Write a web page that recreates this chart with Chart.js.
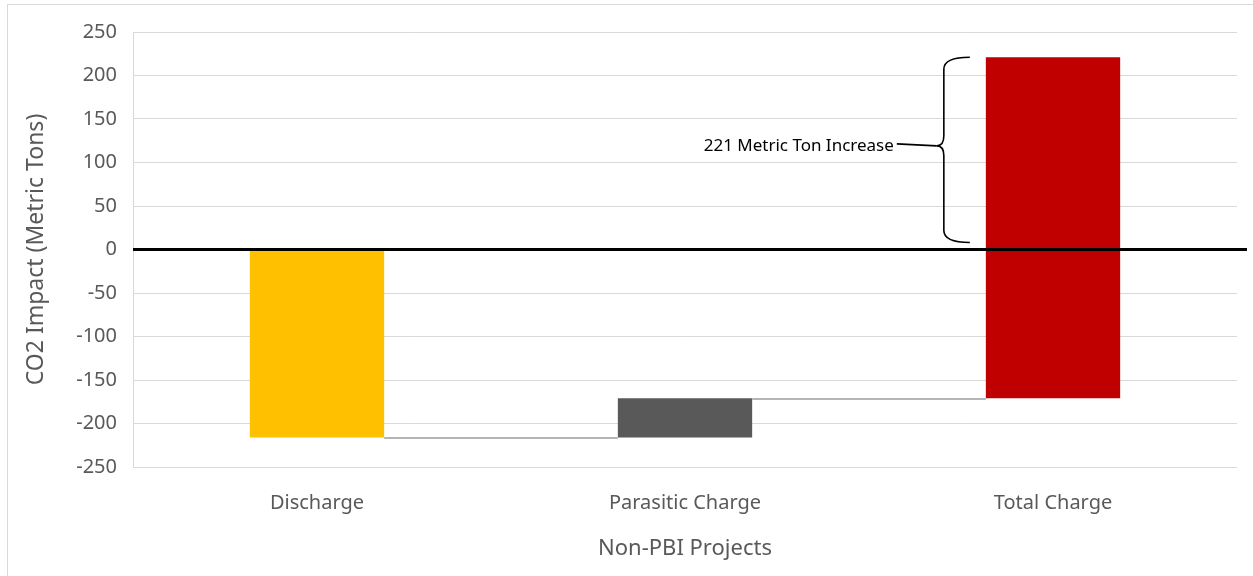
<!DOCTYPE html>
<html>
<head>
<meta charset="utf-8">
<script src="https://cdn.jsdelivr.net/npm/chart.js@4/dist/chart.umd.min.js"></script>
<style>
  html, body { margin: 0; padding: 0; background: #fff; overflow: hidden; }
  #wrap { position: absolute; left: 0; top: 0; width: 1253px; height: 576px; }
</style>
</head>
<body>
<div id="wrap"><canvas id="chart" width="1253" height="576"></canvas></div>
<script>
// categories and floating bar ranges (start -> end, metric tons)
const categories = ["Discharge", "Parasitic Charge", "Total Charge"];
const barStart = [0, -216, -171];
const barEnd = [-216, -171, 221];

// y axis ticks
const yMin = -250;
const yMax = 250;
const yStep = 50;

// bracket annotation on the last bar
const braceFrom = 0;
const braceTo = 221;
const braceLabel = "221 Metric Ton Increase";

const barColors = ["#FFC000", "#595959", "#C00000"];
const FONT = "'Noto Sans', 'Open Sans', sans-serif";

const ranges = barStart.map((s, i) => [s, barEnd[i]]);

// outer frame, waterfall connectors, zero line and the bracket
const extras = {
  id: "extras",
  beforeDraw(chart) {
    const ctx = chart.ctx;
    ctx.save();
    ctx.strokeStyle = "#d9d9d9";
    ctx.lineWidth = 1;
    ctx.strokeRect(7.5, 4.5, 1250, 580);
    ctx.restore();
  },
  afterDatasetsDraw(chart) {
    const ctx = chart.ctx;
    const y = chart.scales.y;
    const bars = chart.getDatasetMeta(0).data;
    const area = chart.chartArea;

    // connectors between consecutive bars
    ctx.save();
    ctx.strokeStyle = "#b4b4b4";
    ctx.lineWidth = 2;
    for (let i = 0; i < bars.length - 1; i++) {
      const a = bars[i], b = bars[i + 1];
      const yy = Math.round(y.getPixelForValue(barEnd[i])) + 1;
      ctx.beginPath();
      ctx.moveTo(a.x + a.width / 2, yy);
      ctx.lineTo(b.x - b.width / 2, yy);
      ctx.stroke();
    }
    ctx.restore();

    // zero line
    const y0 = y.getPixelForValue(0);
    ctx.save();
    ctx.strokeStyle = "#000";
    ctx.lineWidth = 3;
    ctx.beginPath();
    ctx.moveTo(area.left, y0);
    ctx.lineTo(area.right + 10, y0);
    ctx.stroke();
    ctx.restore();

    // bracket to the left of the last bar
    const last = bars[bars.length - 1];
    const left = last.x - last.width / 2;
    const top = y.getPixelForValue(braceTo);
    const bottom = y.getPixelForValue(braceFrom) - 7;
    const mid = (top + bottom) / 2 - 4;
    const endX = left - 16;
    const spineX = left - 42;
    const tipX = left - 49;
    ctx.save();
    ctx.strokeStyle = "#000";
    ctx.lineWidth = 1.6;
    ctx.beginPath();
    ctx.moveTo(endX, top);
    ctx.quadraticCurveTo(spineX, top, spineX, top + 12);
    ctx.lineTo(spineX, mid - 10);
    ctx.quadraticCurveTo(spineX, mid, tipX, mid);
    ctx.quadraticCurveTo(spineX, mid, spineX, mid + 10);
    ctx.lineTo(spineX, bottom - 12);
    ctx.quadraticCurveTo(spineX, bottom, endX, bottom);
    ctx.stroke();
    ctx.beginPath();
    ctx.moveTo(tipX, mid);
    ctx.lineTo(tipX - 40, mid - 2);
    ctx.stroke();
    ctx.fillStyle = "#000";
    ctx.font = "17px " + FONT;
    ctx.textAlign = "right";
    ctx.textBaseline = "middle";
    ctx.fillText(braceLabel, tipX - 43, mid);
    ctx.restore();
  }
};

new Chart(document.getElementById("chart"), {
  type: "bar",
  data: {
    labels: categories,
    datasets: [{
      data: ranges,
      backgroundColor: barColors,
      borderWidth: 0,
      barPercentage: 1,
      categoryPercentage: 0.365
    }]
  },
  options: {
    responsive: false,
    animation: false,
    plugins: {
      legend: { display: false },
      tooltip: { enabled: false }
    },
    layout: { padding: { left: 20, top: 32, right: 16, bottom: 10 } },
    scales: {
      x: {
        grid: { display: false },
        border: { display: false },
        ticks: {
          color: "#595959",
          font: { family: FONT, size: 20 },
          padding: 16
        },
        title: {
          display: true,
          text: "Non-PBI Projects",
          color: "#595959",
          font: { family: FONT, size: 22 },
          padding: { top: 0, bottom: 4 }
        },
        afterFit(scale) { scale.height = 99; }
      },
      y: {
        min: yMin,
        max: yMax,
        grid: { color: "#d9d9d9", lineWidth: 1, drawTicks: false },
        border: { display: true, color: "#d9d9d9", width: 1 },
        ticks: {
          stepSize: yStep,
          color: "#595959",
          font: { family: FONT, size: 20 },
          padding: 16
        },
        title: {
          display: true,
          text: "CO2 Impact (Metric Tons)",
          color: "#595959",
          font: { family: FONT, size: 23 },
          padding: { top: 3, bottom: 0 }
        },
        afterFit(scale) { scale.width = 113; }
      }
    }
  },
  plugins: [extras]
});
</script>
</body>
</html>
